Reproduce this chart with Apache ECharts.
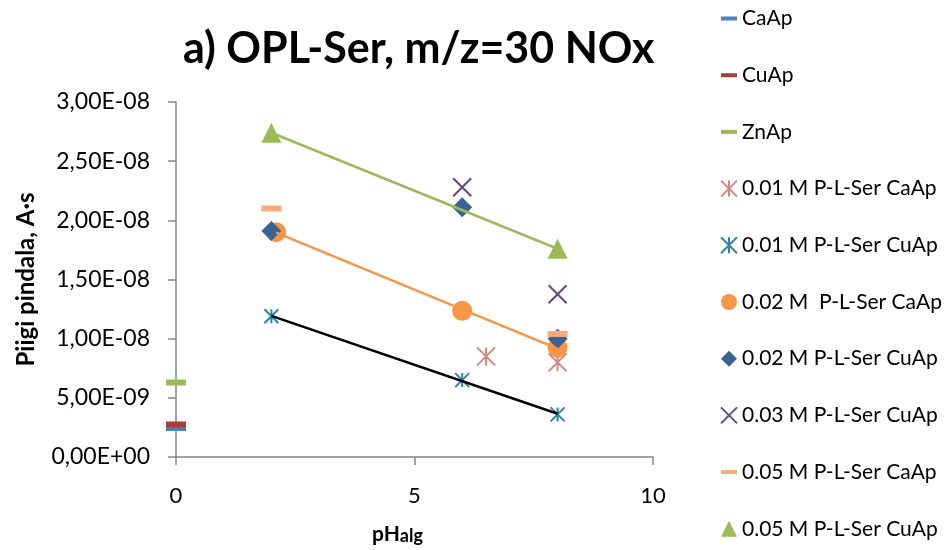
<!DOCTYPE html>
<html>
<head>
<meta charset="utf-8">
<script src="https://cdn.jsdelivr.net/npm/echarts@6/dist/echarts.min.js"></script>
<style>
  html, body { margin: 0; padding: 0; background: #fff; }
  #chart { width: 948px; height: 550px; }
</style>
</head>
<body>
<div id="chart"></div>
<script>
// Reference apatites (plotted at pH 0)
const caApX = [0];
const caApY = [2.45e-9];
const cuApX = [0];
const cuApY = [2.75e-9];
const znApX = [0];
const znApY = [6.3e-9];

// P-L-Ser treated samples: pH of the alginate solution vs peak area
const ser001CaX = [6.5, 8];
const ser001CaY = [8.5e-9, 8.0e-9];
const ser001CuX = [2, 6, 8];
const ser001CuY = [1.19e-8, 6.5e-9, 3.6e-9];
const ser002CaX = [2.1, 6, 8];
const ser002CaY = [1.90e-8, 1.235e-8, 9.25e-9];
const ser002CuX = [2, 6, 8];
const ser002CuY = [1.91e-8, 2.11e-8, 1.0e-8];
const ser003CuX = [6, 8];
const ser003CuY = [2.28e-8, 1.375e-8];
const ser005CaX = [2, 8];
const ser005CaY = [2.1e-8, 1.04e-8];
const ser005CuX = [2, 8];
const ser005CuY = [2.74e-8, 1.76e-8];

const seriesNames = [
  'CaAp', 'CuAp', 'ZnAp',
  '0.01 M P-L-Ser CaAp', '0.01 M P-L-Ser CuAp',
  '0.02 M  P-L-Ser CaAp', '0.02 M P-L-Ser CuAp',
  '0.03 M P-L-Ser CuAp',
  '0.05 M P-L-Ser CaAp', '0.05 M P-L-Ser CuAp'
];

const xTicks = { min: 0, max: 10, step: 5 };
const yTicks = { min: 0, max: 3e-8, step: 5e-9 };

const FONT = 'Lato';
const AXIS_COLOR = '#868686';

const pairs = (xs, ys) => xs.map((x, i) => [x, ys[i]]);

// least-squares linear trend, drawn across the series' x range
function trend(xs, ys) {
  const n = xs.length;
  const mx = xs.reduce((a, b) => a + b, 0) / n;
  const my = ys.reduce((a, b) => a + b, 0) / n;
  let sxy = 0, sxx = 0;
  for (let i = 0; i < n; i++) {
    sxy += (xs[i] - mx) * (ys[i] - my);
    sxx += (xs[i] - mx) * (xs[i] - mx);
  }
  const k = sxy / sxx;
  const x0 = Math.min(...xs), x1 = Math.max(...xs);
  return [[x0, my + k * (x0 - mx)], [x1, my + k * (x1 - mx)]];
}

// Excel-style scientific label: 2,50E-08
function sci(v) {
  if (Math.abs(v) < 1e-20) return '0,00E+00';
  const parts = v.toExponential(2).split('e');
  const e = parseInt(parts[1], 10);
  return parts[0].replace('.', ',') + 'E' + (e < 0 ? '-' : '+') + String(Math.abs(e)).padStart(2, '0');
}

const DASH = 'path://M0,0H20V5H0Z';
const STAR = 'path://M0,0L20,20M20,0L0,20M10,0L10,20';
const CROSS = 'path://M0,0L20,20M20,0L0,20';

function filled(name, data, symbol, size, color) {
  return {
    name, type: 'scatter', data, symbol, symbolSize: size,
    itemStyle: { color: color, opacity: 1 },
    emphasis: { disabled: true }, z: 3
  };
}
function stroked(name, data, symbol, size, color, width) {
  return {
    name, type: 'scatter', data, symbol, symbolSize: size, symbolKeepAspect: true,
    itemStyle: { color: 'rgba(0,0,0,0)', borderColor: color, borderWidth: width, opacity: 1 },
    emphasis: { disabled: true }, z: 3
  };
}
function trendLine(data, color) {
  return {
    type: 'line', data, showSymbol: false, symbol: 'none', silent: true,
    lineStyle: { color: color, width: 2.5 }, z: 4
  };
}

const C = {
  ca: '#4F81BD', cu: '#A5403D', zn: '#9BBB59',
  s001Ca: '#D08884', s001Cu: '#31859C',
  s002Ca: '#F79646', s002Cu: '#3A6394',
  s003Cu: '#604A7B', s005Ca: '#F8AA7A', s005Cu: '#9BBB59'
};

const series = [
  filled(seriesNames[0], pairs(caApX, caApY), 'rect', [20, 6], C.ca),
  filled(seriesNames[1], pairs(cuApX, cuApY), 'rect', [20, 6], C.cu),
  filled(seriesNames[2], pairs(znApX, znApY), 'rect', [20, 6], C.zn),
  stroked(seriesNames[3], pairs(ser001CaX, ser001CaY), STAR, 18, C.s001Ca, 2),
  stroked(seriesNames[4], pairs(ser001CuX, ser001CuY), STAR, 14, C.s001Cu, 2),
  filled(seriesNames[5], pairs(ser002CaX, ser002CaY), 'circle', 20, C.s002Ca),
  filled(seriesNames[6], pairs(ser002CuX, ser002CuY), 'diamond', 20, C.s002Cu),
  stroked(seriesNames[7], pairs(ser003CuX, ser003CuY), CROSS, 18, C.s003Cu, 2),
  filled(seriesNames[8], pairs(ser005CaX, ser005CaY), 'rect', [20, 6], C.s005Ca),
  filled(seriesNames[9], pairs(ser005CuX, ser005CuY), 'triangle', 20, C.s005Cu),
  trendLine(trend(ser001CuX, ser001CuY), '#000000'),
  trendLine(trend(ser002CaX, ser002CaY), C.s002Ca),
  trendLine(trend(ser005CuX, ser005CuY), C.s005Cu)
];

const legendIcons = [DASH, DASH, DASH, STAR, STAR, 'circle', 'diamond', CROSS, DASH, 'triangle'];
const legendColors = [C.ca, C.cu, C.zn, C.s001Ca, C.s001Cu, C.s002Ca, C.s002Cu, C.s003Cu, C.s005Ca, C.s005Cu];
const legendData = seriesNames.map((name, i) => {
  const icon = legendIcons[i];
  const item = { name, icon };
  if (icon === STAR || icon === CROSS) {
    item.itemStyle = { color: 'rgba(0,0,0,0)', borderColor: legendColors[i], borderWidth: 2 };
  } else {
    item.itemStyle = { color: legendColors[i], borderWidth: 0 };
  }
  return item;
});

const chart = echarts.init(document.getElementById('chart'), null, { renderer: 'canvas' });
chart.setOption({
  animation: false,
  backgroundColor: '#ffffff',
  title: {
    text: 'a) OPL-Ser, m/z=30 NOx',
    left: 183, top: 28, padding: 0,
    textStyle: { fontFamily: FONT, fontWeight: 'bold', fontSize: 43, color: '#000' }
  },
  legend: {
    orient: 'vertical', left: 715, top: 3, height: 547,
    itemWidth: 16, itemHeight: 16, itemGap: 35.7, itemTextGap: 6,
    symbolKeepAspect: true,
    selectedMode: false,
    data: legendData,
    textStyle: { fontFamily: FONT, fontSize: 21, color: '#000', lineHeight: 21 }
  },
  grid: { left: 176, top: 102, width: 477, height: 356, containLabel: false },
  xAxis: {
    type: 'value', min: xTicks.min, max: xTicks.max, interval: xTicks.step,
    name: '{a|pH}{b|alg}', nameLocation: 'middle', nameGap: 64,
    nameTextStyle: {
      padding: [0, 34, 0, 0],
      rich: {
        a: { fontFamily: FONT, fontWeight: 'bold', fontSize: 21, color: '#000', verticalAlign: 'bottom', lineHeight: 24 },
        b: { fontFamily: FONT, fontWeight: 'bold', fontSize: 18, color: '#000', verticalAlign: 'bottom', lineHeight: 22 }
      }
    },
    axisLine: { show: true, onZero: false, lineStyle: { color: AXIS_COLOR, width: 1.5 } },
    axisTick: { show: true, inside: false, length: 8, lineStyle: { color: AXIS_COLOR, width: 1.5 } },
    axisLabel: { fontFamily: FONT, fontSize: 22, color: '#000', margin: 28 },
    splitLine: { show: false }
  },
  yAxis: {
    type: 'value', min: yTicks.min, max: yTicks.max, interval: yTicks.step,
    name: 'Piigi pindala, A·s', nameLocation: 'middle', nameGap: 138, nameRotate: 90,
    nameTextStyle: { fontFamily: FONT, fontWeight: 'bold', fontSize: 24, color: '#000' },
    axisLine: { show: true, onZero: false, lineStyle: { color: AXIS_COLOR, width: 1.5 } },
    axisTick: { show: true, inside: false, length: 8, lineStyle: { color: AXIS_COLOR, width: 1.5 } },
    axisLabel: { fontFamily: FONT, fontSize: 23, color: '#000', margin: 26, formatter: sci },
    splitLine: { show: false }
  },
  series: series
});
</script>
</body>
</html>
